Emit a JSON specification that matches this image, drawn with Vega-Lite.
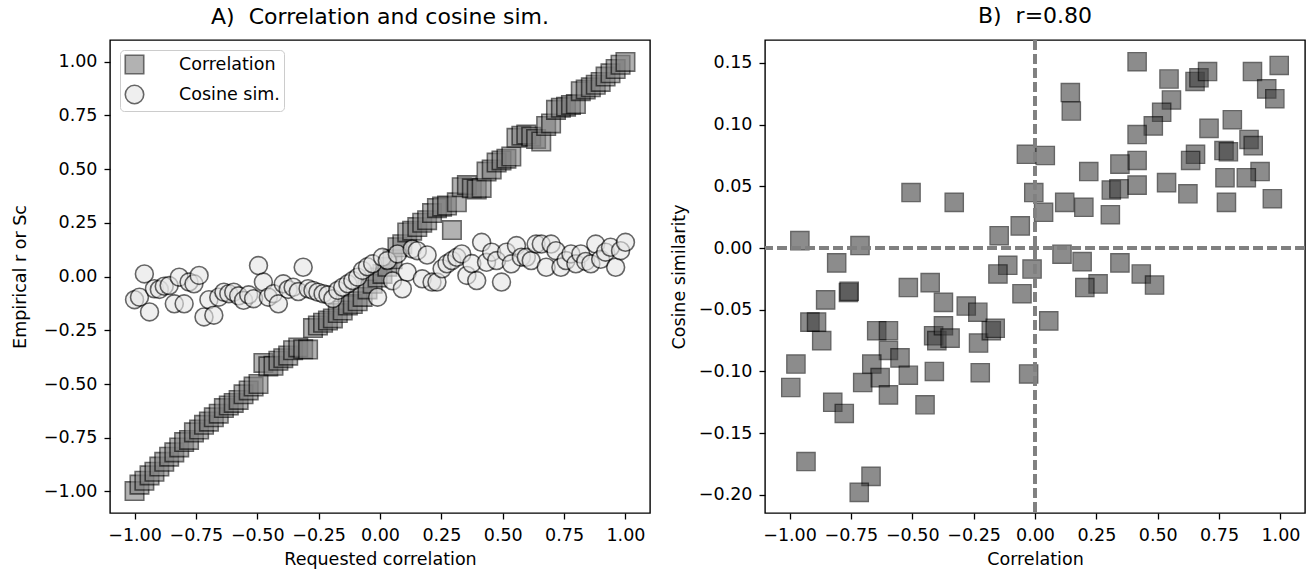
{
  "$schema": "https://vega.github.io/schema/vega-lite/v6.json",
  "padding": {"left": 10, "top": 4, "right": 4, "bottom": 5},
  "bounds": "flush",
  "spacing": 115,
  "config": {
    "font": "DejaVu Sans",
    "view": {"stroke": "black", "strokeWidth": 1.4},
    "axis": {
      "domain": false,
      "grid": false,
      "ticks": true,
      "tickColor": "black",
      "tickSize": 6,
      "tickWidth": 1.3,
      "labelFont": "DejaVu Sans",
      "labelFontSize": 17.5,
      "labelColor": "black",
      "labelPadding": 7,
      "titleFont": "DejaVu Sans",
      "titleFontSize": 17.5,
      "titleFontWeight": "normal",
      "titleColor": "black",
      "titlePadding": 7
    },
    "title": {"font": "DejaVu Sans", "fontSize": 22, "fontWeight": "normal", "color": "black", "offset": 11},
    "legend": {
      "labelFont": "DejaVu Sans",
      "labelFontSize": 17.5,
      "labelColor": "black"
    }
  },
  "hconcat": [
    {
      "width": 540,
      "height": 473,
      "title": {"text": "A)\u00a0\u00a0Correlation and cosine sim."},
      "data": {"values": [
        {"x": -1.000, "r": -0.998, "c": -0.108},
        {"x": -0.980, "r": -0.968, "c": -0.096},
        {"x": -0.960, "r": -0.950, "c": 0.012},
        {"x": -0.939, "r": -0.925, "c": -0.165},
        {"x": -0.919, "r": -0.908, "c": -0.057},
        {"x": -0.899, "r": -0.884, "c": -0.060},
        {"x": -0.879, "r": -0.862, "c": -0.045},
        {"x": -0.859, "r": -0.838, "c": -0.042},
        {"x": -0.838, "r": -0.818, "c": -0.127},
        {"x": -0.818, "r": -0.795, "c": -0.003},
        {"x": -0.798, "r": -0.770, "c": -0.127},
        {"x": -0.778, "r": -0.760, "c": -0.026},
        {"x": -0.758, "r": -0.725, "c": -0.034},
        {"x": -0.737, "r": -0.712, "c": 0.005},
        {"x": -0.717, "r": -0.690, "c": -0.188},
        {"x": -0.697, "r": -0.675, "c": -0.108},
        {"x": -0.677, "r": -0.655, "c": -0.180},
        {"x": -0.657, "r": -0.638, "c": -0.096},
        {"x": -0.636, "r": -0.612, "c": -0.073},
        {"x": -0.616, "r": -0.600, "c": -0.080},
        {"x": -0.596, "r": -0.588, "c": -0.073},
        {"x": -0.576, "r": -0.574, "c": -0.090},
        {"x": -0.556, "r": -0.548, "c": -0.111},
        {"x": -0.535, "r": -0.530, "c": -0.085},
        {"x": -0.515, "r": -0.512, "c": -0.103},
        {"x": -0.495, "r": -0.500, "c": 0.051},
        {"x": -0.475, "r": -0.402, "c": -0.026},
        {"x": -0.455, "r": -0.418, "c": -0.096},
        {"x": -0.434, "r": -0.415, "c": -0.080},
        {"x": -0.414, "r": -0.392, "c": -0.127},
        {"x": -0.394, "r": -0.380, "c": -0.034},
        {"x": -0.374, "r": -0.368, "c": -0.060},
        {"x": -0.354, "r": -0.343, "c": -0.050},
        {"x": -0.333, "r": -0.330, "c": -0.070},
        {"x": -0.313, "r": -0.338, "c": 0.043},
        {"x": -0.293, "r": -0.340, "c": -0.057},
        {"x": -0.273, "r": -0.240, "c": -0.065},
        {"x": -0.253, "r": -0.228, "c": -0.073},
        {"x": -0.232, "r": -0.215, "c": -0.080},
        {"x": -0.212, "r": -0.205, "c": -0.085},
        {"x": -0.192, "r": -0.195, "c": -0.103},
        {"x": -0.172, "r": -0.170, "c": -0.065},
        {"x": -0.152, "r": -0.158, "c": -0.050},
        {"x": -0.131, "r": -0.135, "c": -0.034},
        {"x": -0.111, "r": -0.128, "c": -0.019},
        {"x": -0.091, "r": -0.115, "c": -0.003},
        {"x": -0.071, "r": -0.095, "c": 0.028},
        {"x": -0.051, "r": -0.060, "c": 0.045},
        {"x": -0.030, "r": -0.034, "c": 0.059},
        {"x": -0.010, "r": -0.005, "c": -0.096},
        {"x": 0.010, "r": 0.012, "c": 0.089},
        {"x": 0.030, "r": 0.045, "c": 0.074},
        {"x": 0.051, "r": 0.080, "c": -0.020},
        {"x": 0.071, "r": 0.136, "c": 0.105},
        {"x": 0.091, "r": 0.150, "c": -0.057},
        {"x": 0.111, "r": 0.205, "c": 0.020},
        {"x": 0.131, "r": 0.213, "c": 0.128},
        {"x": 0.152, "r": 0.230, "c": 0.120},
        {"x": 0.172, "r": 0.250, "c": -0.011},
        {"x": 0.192, "r": 0.262, "c": 0.100},
        {"x": 0.212, "r": 0.295, "c": -0.026},
        {"x": 0.232, "r": 0.318, "c": -0.026},
        {"x": 0.253, "r": 0.325, "c": 0.036},
        {"x": 0.273, "r": 0.330, "c": 0.059},
        {"x": 0.293, "r": 0.216, "c": 0.074},
        {"x": 0.313, "r": 0.345, "c": 0.089},
        {"x": 0.333, "r": 0.415, "c": 0.105},
        {"x": 0.354, "r": 0.425, "c": 0.005},
        {"x": 0.374, "r": 0.410, "c": 0.060},
        {"x": 0.394, "r": 0.405, "c": -0.019},
        {"x": 0.414, "r": 0.412, "c": 0.159},
        {"x": 0.434, "r": 0.488, "c": 0.066},
        {"x": 0.455, "r": 0.498, "c": 0.113},
        {"x": 0.475, "r": 0.530, "c": 0.074},
        {"x": 0.495, "r": 0.540, "c": -0.026},
        {"x": 0.515, "r": 0.548, "c": 0.113},
        {"x": 0.535, "r": 0.558, "c": 0.059},
        {"x": 0.556, "r": 0.645, "c": 0.144},
        {"x": 0.576, "r": 0.655, "c": 0.090},
        {"x": 0.596, "r": 0.660, "c": 0.089},
        {"x": 0.616, "r": 0.650, "c": 0.074},
        {"x": 0.636, "r": 0.640, "c": 0.151},
        {"x": 0.657, "r": 0.628, "c": 0.151},
        {"x": 0.677, "r": 0.700, "c": 0.043},
        {"x": 0.697, "r": 0.712, "c": 0.151},
        {"x": 0.717, "r": 0.775, "c": 0.120},
        {"x": 0.737, "r": 0.785, "c": 0.043},
        {"x": 0.758, "r": 0.790, "c": 0.074},
        {"x": 0.778, "r": 0.798, "c": 0.105},
        {"x": 0.798, "r": 0.802, "c": 0.059},
        {"x": 0.818, "r": 0.862, "c": 0.105},
        {"x": 0.838, "r": 0.870, "c": 0.070},
        {"x": 0.859, "r": 0.880, "c": 0.059},
        {"x": 0.879, "r": 0.892, "c": 0.151},
        {"x": 0.899, "r": 0.905, "c": 0.080},
        {"x": 0.919, "r": 0.930, "c": 0.113},
        {"x": 0.939, "r": 0.945, "c": 0.136},
        {"x": 0.960, "r": 0.965, "c": 0.043},
        {"x": 0.980, "r": 0.985, "c": 0.120},
        {"x": 1.000, "r": 0.998, "c": 0.159}
      ]},
      "layer": [
        {
          "mark": {"type": "point", "filled": true, "size": 340, "opacity": 0.6, "stroke": "black", "strokeWidth": 1.6},
          "encoding": {
            "x": {"field": "x", "type": "quantitative", "scale": {"domain": [-1.1, 1.1], "nice": false, "zero": false},
                  "axis": {"title": "Requested correlation", "values": [-1, -0.75, -0.5, -0.25, 0, 0.25, 0.5, 0.75, 1], "format": ".2f"}},
            "y": {"field": "r", "type": "quantitative", "scale": {"domain": [-1.1, 1.1], "nice": false, "zero": false},
                  "axis": {"title": "Empirical r or Sᴄ", "titlePadding": 14, "values": [-1, -0.75, -0.5, -0.25, 0, 0.25, 0.5, 0.75, 1], "format": ".2f"}},
            "color": {"datum": "Correlation", "type": "nominal",
                      "scale": {"domain": ["Correlation", "Cosine sim."], "range": ["#808080", "#e6e6e6"]},
                      "legend": {"title": null, "orient": "top-left", "offset": 10, "padding": 4, "rowPadding": 5,
                                 "labelOffset": 34, "symbolSize": 340, "symbolOpacity": 0.6, "symbolStrokeColor": "black",
                                 "symbolStrokeWidth": 1.6, "strokeColor": "#cccccc", "cornerRadius": 4, "fillColor": "white"}},
            "shape": {"datum": "Correlation", "type": "nominal",
                      "scale": {"domain": ["Correlation", "Cosine sim."], "range": ["square", "circle"]},
                      "legend": {"title": null, "orient": "top-left", "offset": 10, "padding": 4, "rowPadding": 5,
                                 "labelOffset": 34, "symbolSize": 340, "symbolOpacity": 0.6, "symbolStrokeColor": "black",
                                 "symbolStrokeWidth": 1.6, "strokeColor": "#cccccc", "cornerRadius": 4, "fillColor": "white"}}
          }
        },
        {
          "mark": {"type": "point", "filled": true, "size": 320, "opacity": 0.6, "stroke": "black", "strokeWidth": 1.6},
          "encoding": {
            "x": {"field": "x", "type": "quantitative"},
            "y": {"field": "c", "type": "quantitative"},
            "color": {"datum": "Cosine sim.", "type": "nominal"},
            "shape": {"datum": "Cosine sim.", "type": "nominal"}
          }
        }
      ]
    },
    {
      "width": 540,
      "height": 473,
      "title": {"text": "B)\u00a0\u00a0r=0.80"},
      "data": {"values": [
        {"x": -0.958, "y": 0.006}, {"x": -0.808, "y": -0.012}, {"x": -0.713, "y": 0.002}, {"x": -0.505, "y": 0.045},
        {"x": -0.329, "y": 0.037}, {"x": -0.146, "y": 0.010}, {"x": -0.060, "y": 0.018}, {"x": -0.035, "y": 0.076},
        {"x": -0.005, "y": 0.045}, {"x": -0.111, "y": -0.014}, {"x": -0.151, "y": -0.021}, {"x": -0.012, "y": -0.017},
        {"x": 0.416, "y": 0.151}, {"x": 0.144, "y": 0.126}, {"x": 0.148, "y": 0.111}, {"x": 0.546, "y": 0.137},
        {"x": 0.556, "y": 0.120}, {"x": 0.516, "y": 0.110}, {"x": 0.482, "y": 0.099}, {"x": 0.416, "y": 0.092},
        {"x": 0.652, "y": 0.135}, {"x": 0.668, "y": 0.138}, {"x": 0.703, "y": 0.143}, {"x": 0.886, "y": 0.143},
        {"x": 0.995, "y": 0.148}, {"x": 0.944, "y": 0.129}, {"x": 0.977, "y": 0.121}, {"x": 0.804, "y": 0.104},
        {"x": 0.709, "y": 0.097}, {"x": 0.872, "y": 0.088}, {"x": 0.889, "y": 0.083}, {"x": 0.770, "y": 0.079},
        {"x": 0.788, "y": 0.078}, {"x": 0.654, "y": 0.076}, {"x": 0.634, "y": 0.071}, {"x": 0.917, "y": 0.062},
        {"x": 0.774, "y": 0.057}, {"x": 0.861, "y": 0.057}, {"x": 0.967, "y": 0.040}, {"x": 0.780, "y": 0.037},
        {"x": 0.536, "y": 0.053}, {"x": 0.623, "y": 0.044}, {"x": 0.416, "y": 0.071}, {"x": 0.416, "y": 0.051},
        {"x": 0.346, "y": 0.068}, {"x": 0.219, "y": 0.062}, {"x": 0.311, "y": 0.047}, {"x": 0.342, "y": 0.048},
        {"x": 0.307, "y": 0.027}, {"x": 0.121, "y": 0.037}, {"x": 0.199, "y": 0.033}, {"x": 0.035, "y": 0.029},
        {"x": 0.042, "y": 0.075}, {"x": 0.110, "y": -0.005}, {"x": 0.192, "y": -0.011}, {"x": 0.346, "y": -0.012},
        {"x": 0.433, "y": -0.021}, {"x": 0.487, "y": -0.030}, {"x": 0.257, "y": -0.029}, {"x": 0.203, "y": -0.032},
        {"x": 0.056, "y": -0.059}, {"x": -0.053, "y": -0.037}, {"x": -0.026, "y": -0.102}, {"x": -0.516, "y": -0.032},
        {"x": -0.427, "y": -0.028}, {"x": -0.373, "y": -0.044}, {"x": -0.280, "y": -0.047}, {"x": -0.233, "y": -0.052},
        {"x": -0.853, "y": -0.042}, {"x": -0.760, "y": -0.036}, {"x": -0.757, "y": -0.035}, {"x": -0.917, "y": -0.060},
        {"x": -0.890, "y": -0.060}, {"x": -0.869, "y": -0.075}, {"x": -0.974, "y": -0.094}, {"x": -0.995, "y": -0.113},
        {"x": -0.645, "y": -0.067}, {"x": -0.597, "y": -0.067}, {"x": -0.597, "y": -0.083}, {"x": -0.550, "y": -0.089},
        {"x": -0.665, "y": -0.094}, {"x": -0.631, "y": -0.105}, {"x": -0.702, "y": -0.109}, {"x": -0.516, "y": -0.103},
        {"x": -0.597, "y": -0.119}, {"x": -0.448, "y": -0.127}, {"x": -0.410, "y": -0.100}, {"x": -0.824, "y": -0.125},
        {"x": -0.777, "y": -0.134}, {"x": -0.933, "y": -0.173}, {"x": -0.668, "y": -0.185}, {"x": -0.716, "y": -0.198},
        {"x": -0.413, "y": -0.071}, {"x": -0.400, "y": -0.075}, {"x": -0.373, "y": -0.063}, {"x": -0.346, "y": -0.073},
        {"x": -0.230, "y": -0.077}, {"x": -0.178, "y": -0.067}, {"x": -0.162, "y": -0.065}, {"x": -0.223, "y": -0.101}
      ]},
      "layer": [
        {
          "mark": {"type": "square", "size": 330, "color": "#404040", "opacity": 0.6, "stroke": "black", "strokeWidth": 1.4},
          "encoding": {
            "x": {"field": "x", "type": "quantitative", "scale": {"domain": [-1.1, 1.1], "nice": false, "zero": false},
                  "axis": {"title": "Correlation", "values": [-1, -0.75, -0.5, -0.25, 0, 0.25, 0.5, 0.75, 1], "format": ".2f"}},
            "y": {"field": "y", "type": "quantitative", "scale": {"domain": [-0.2147, 0.1686], "nice": false, "zero": false},
                  "axis": {"title": "Cosine similarity", "titlePadding": 10, "values": [-0.2, -0.15, -0.1, -0.05, 0, 0.05, 0.1, 0.15], "format": ".2f"}}
          }
        },
        {
          "mark": {"type": "rule", "color": "#808080", "strokeWidth": 2.4, "strokeDash": [9.8, 4.2]},
          "encoding": {"x": {"datum": 0}}
        },
        {
          "mark": {"type": "rule", "color": "#808080", "strokeWidth": 2.4, "strokeDash": [9.8, 4.2]},
          "encoding": {"y": {"datum": 0}}
        }
      ]
    }
  ]
}
